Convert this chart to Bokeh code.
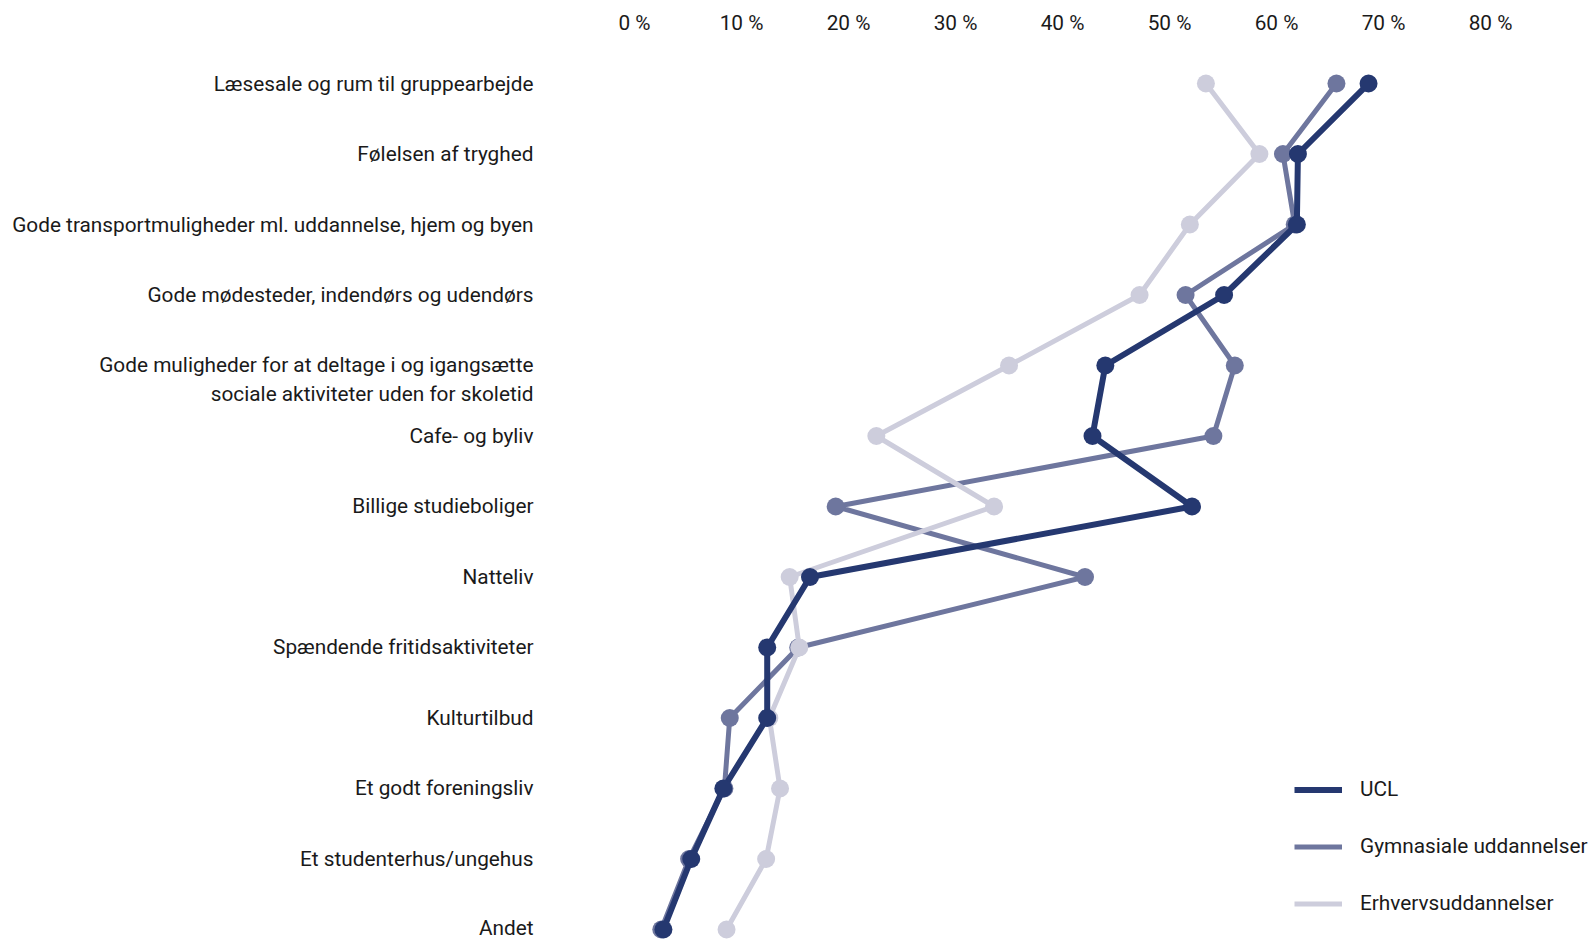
from bokeh.plotting import figure
from bokeh.models import Range1d, FixedTicker, Legend, LegendItem, ColumnDataSource
from bokeh.embed import file_html
from bokeh.resources import INLINE

categories = [
    "Læsesale og rum til gruppearbejde",
    "Følelsen af tryghed",
    "Gode transportmuligheder ml. uddannelse, hjem og byen",
    "Gode mødesteder, indendørs og udendørs",
    "\nGode muligheder for at deltage i og igangsætte\nsociale aktiviteter uden for skoletid",
    "Cafe- og byliv",
    "Billige studieboliger",
    "Natteliv",
    "Spændende fritidsaktiviteter",
    "Kulturtilbud",
    "Et godt foreningsliv",
    "Et studenterhus/ungehus",
    "Andet",
]
series_names = ["UCL", "Gymnasiale uddannelser", "Erhvervsuddannelser"]
ucl = [68.6, 62.0, 61.9, 55.1, 44.0, 42.8, 52.1, 16.4, 12.4, 12.4, 8.3, 5.3, 2.7]
gym = [65.6, 60.6, 61.7, 51.5, 56.1, 54.1, 18.8, 42.1, 15.3, 8.9, 8.4, 5.1, 2.5]
erhv = [53.4, 58.4, 51.9, 47.2, 35.0, 22.6, 33.6, 14.5, 15.4, 12.6, 13.6, 12.3, 8.6]
tick_values = [0, 10, 20, 30, 40, 50, 60, 70, 80]
tick_labels = ["0 %", "10 %", "20 %", "30 %", "40 %", "50 %", "60 %", "70 %", "80 %"]

colors = {"UCL": "#253870", "Gymnasiale uddannelser": "#6E769E", "Erhvervsuddannelser": "#CDCDDC"}
widths = {"UCL": 6, "Gymnasiale uddannelser": 5, "Erhvervsuddannelser": 5}
FONT = "Roboto"
FS = "20.8px"

rows = list(range(len(categories)))

p = figure(width=1592, height=939,
           x_range=Range1d(-8.04, 89.53), y_range=Range1d(12.142, -0.4965),
           x_axis_location="above", output_backend="svg", toolbar_location=None,
           min_border_left=548, min_border_top=48, min_border_right=0, min_border_bottom=0)
p.outline_line_color = None
p.grid.visible = False
p.background_fill_color = "white"
p.border_fill_color = "white"

data = {"UCL": ucl, "Gymnasiale uddannelser": gym, "Erhvervsuddannelser": erhv}
line_renderers = {}
for name in ["Gymnasiale uddannelser", "Erhvervsuddannelser", "UCL"]:
    src = ColumnDataSource(dict(x=data[name], y=rows))
    r = p.line("x", "y", source=src, line_color=colors[name], line_width=widths[name])
    p.scatter("x", "y", source=src, size=18, fill_color=colors[name], line_color=None)
    line_renderers[name] = r

# axes
p.xaxis.ticker = FixedTicker(ticks=tick_values)
p.xaxis.major_label_overrides = {v: l for v, l in zip(tick_values, tick_labels)}
p.yaxis.ticker = FixedTicker(ticks=rows)
p.yaxis.major_label_overrides = {i: c for i, c in zip(rows, categories)}
for ax in [p.xaxis[0], p.yaxis[0]]:
    ax.axis_line_color = None
    ax.major_tick_line_color = None
    ax.minor_tick_line_color = None
    ax.major_tick_out = 0
    ax.major_tick_in = 0
    ax.minor_tick_out = 0
    ax.major_label_text_font = FONT
    ax.major_label_text_font_size = FS
    ax.major_label_text_color = "#1a1a1a"
p.yaxis.major_label_standoff = 15
p.xaxis.major_label_standoff = 14

legend = Legend(items=[LegendItem(label=n, renderers=[line_renderers[n]]) for n in series_names],
                location=(746, 24), orientation="vertical",
                glyph_width=48, glyph_height=21, label_height=21, label_standoff=18,
                spacing=33, padding=0, margin=0,
                border_line_color=None, background_fill_alpha=0,
                label_text_font=FONT, label_text_font_size=FS, label_text_color="#1a1a1a")
p.add_layout(legend)

open("out.html", "w").write(file_html(p, INLINE))
